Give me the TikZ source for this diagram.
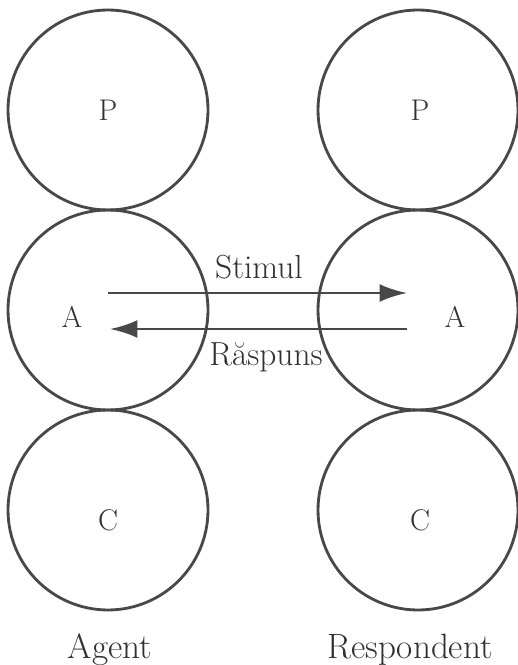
\documentclass[tikz,border=0pt]{standalone}
\usepackage{tikz}
\usepackage{xcolor}
\usetikzlibrary{calc,arrows.meta}
\definecolor{inkGray}{RGB}{72,72,72}
\definecolor{textGray}{RGB}{48,48,48}

\begin{document}
\begin{tikzpicture}[x=0.02cm,y=-0.02cm,
  ego/.style={circle,draw=inkGray,line width=1.6pt,minimum size=4cm,inner sep=0pt},
  egoLetter/.style={text=textGray,font=\fontsize{17}{19}\selectfont,inner sep=0pt},
  flowText/.style={text=textGray,font=\fontsize{19}{21}\selectfont,anchor=base,inner sep=0pt},
  roleText/.style={text=textGray,font=\fontsize{20}{22}\selectfont,anchor=base,inner sep=0pt},
  flow/.style={draw=inkGray,line width=1.6pt,-{Latex[length=5.5mm,width=3.6mm]}}]
\path[use as bounding box] (0,0) rectangle (517,665);

% agent column
\node[ego] (agentP) at (108,110) {};
\node[ego] (agentA) at (108,310) {};
\node[ego] (agentC) at (108,510) {};
% respondent column
\node[ego] (respP) at (418,110) {};
\node[ego] (respA) at (418,310) {};
\node[ego] (respC) at (418,510) {};

% ego state letters
\node[egoLetter] (agentPlbl) at (agentP) {P};
\node[egoLetter] (agentAlbl) at ($(agentA)+(-36,7)$) {A};
\node[egoLetter] (agentClbl) at ($(agentC)+(0,10)$) {C};
\node[egoLetter] (respPlbl) at ($(respP)+(2,0)$) {P};
\node[egoLetter] (respAlbl) at ($(respA)+(37,7)$) {A};
\node[egoLetter] (respClbl) at ($(respC)+(2,10)$) {C};

% transaction
\draw[flow] ($(agentA)+(0,-17)$) -- ($(respA)+(-11,-17)$);
\draw[flow] ($(respA)+(-11,19)$) -- ($(agentA)+(2,19)$);
\node[flowText] (stimul) at (259,278) {Stimul};
\node[flowText] (raspuns) at (266,365) {Răspuns};

\node[roleText] (agent) at (110,658) {Agent};
\node[roleText] (respondent) at (410,658) {Respondent};
\end{tikzpicture}
\end{document}
